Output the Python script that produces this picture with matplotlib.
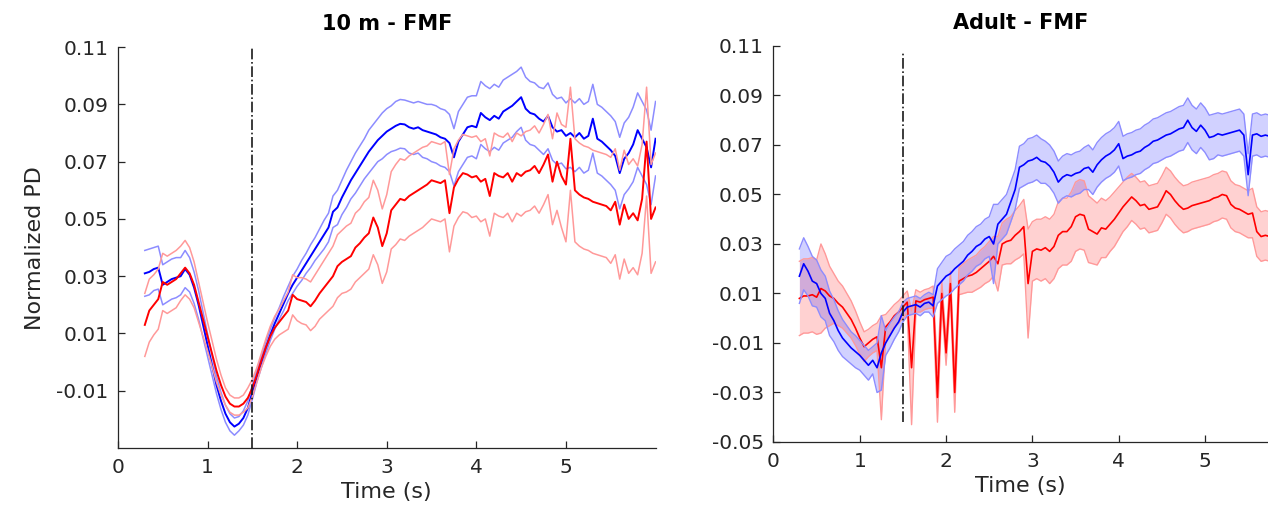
import numpy as np
import matplotlib
matplotlib.use("Agg")
import matplotlib.pyplot as plt

plt.rcParams['font.family'] = ['DejaVu Sans']
plt.rcParams['axes.unicode_minus'] = False

# ---------------- data (values in units of 1e-3) ----------------
event_time = 1.5

t_10m = np.round(np.arange(0.30, 6.001, 0.05), 2)
blue_mean_10m = [
    31, 31.5, 32.5, 33, 27, 28, 29, 29.5, 30, 32.5,
    30.5, 26, 20, 13, 6, -1, -8, -13.5, -18, -21,
    -22.5, -21.5, -19.5, -16, -10.5, -5, 0, 5, 9.5, 13.5,
    17, 20.5, 24, 27, 29.5, 32, 34.5, 37, 39.5, 42,
    44.5, 47, 52.5, 54, 57.5, 60.5, 63.5, 66, 68.5, 71,
    73.5, 75.5, 77.5, 79, 80.5, 81.5, 82.5, 83.2, 83, 82,
    81.5, 82, 81, 80.5, 80, 79.5, 78.5, 78, 76.5, 71.5,
    77, 79.5, 82, 82.5, 82, 87, 85.5, 84.5, 86, 85,
    87.5, 88.5, 89.5, 91, 92.5, 88.5, 87, 86.5, 85, 84,
    86, 82, 80.5, 81, 79, 80, 78.5, 80, 78, 79,
    85, 78, 77, 75.5, 74, 72, 66, 71, 73, 76,
    81, 78, 75, 68, 78]
blue_sem_10m = [
    8, 8, 7.5, 7.5, 7, 7, 7, 7, 6.5, 6.5,
    6, 5.5, 5, 4.5, 4, 3.5, 3, 3, 3, 3,
    3, 2.5, 2.5, 2.5, 2.5, 2, 2, 2, 2, 2,
    2, 2.5, 2.5, 3, 3, 3.5, 3.5, 4, 4, 4.5,
    5, 5, 5.5, 6, 6, 6.5, 6.5, 7, 7, 7,
    7.5, 7.5, 7.5, 8, 8, 8, 8.5, 8.5, 8.5, 9,
    9, 9, 9.5, 9.5, 10, 10, 10, 10, 10, 10,
    10.5, 10.5, 10.5, 10.5, 11, 11, 11, 11, 11, 11,
    11, 11, 11, 10.5, 10.5, 11, 11, 11, 11, 11.5,
    11.5, 11.5, 11.5, 11.5, 11.5, 12, 12, 12, 12, 12,
    12, 12, 12, 12, 12, 12, 12.5, 12.5, 12.5, 13,
    13, 13, 13, 13, 13]
red_mean_10m = [
    13, 18, 20, 22, 28, 27, 28, 29, 31, 33,
    31, 27, 21, 15, 9, 3, -3, -8, -12, -14.5,
    -15.5, -15.5, -14.5, -12.5, -9, -4.5, 0.5, 5, 9, 12,
    14, 16, 18, 23.5, 22, 21.5, 21, 19.5, 21.5, 24,
    26, 28, 30, 33.5, 35, 36, 37, 40, 41.5, 43.5,
    45, 50.5, 47, 40.5, 45, 53, 55, 57, 56.5, 58,
    59, 60, 61, 62, 63.5, 63, 62.5, 63.5, 52, 61,
    64, 66, 65.5, 64.5, 65, 63, 64, 58, 66, 65,
    64.5, 66, 63, 66, 65, 66.5, 67, 68.5, 66, 69,
    72.5, 63, 70, 65, 62, 78, 60, 58.5, 57.5, 57,
    56, 55.5, 55, 54.5, 53, 56, 48, 55, 50, 52,
    49.5, 57, 77, 50, 54]
red_sem_10m = [
    11, 11, 10.5, 10.5, 10, 10, 10, 10, 9.5, 9.5,
    9, 8, 7, 6, 5, 4.5, 4, 3.5, 3, 3,
    3, 3, 3, 3.5, 3, 2.5, 2.5, 3, 3.5, 4,
    4.5, 5.5, 6.5, 7, 7.5, 8, 8, 8.5, 9, 9,
    9.5, 10, 10.5, 11, 11, 11.5, 11.5, 12, 12, 12.5,
    12.5, 13, 13, 13, 13.5, 13.5, 14, 14, 14, 14,
    14, 14, 14, 13.5, 13.5, 13.5, 13.5, 13.5, 13.5, 13.5,
    13.5, 13.5, 13.5, 14, 14, 14, 14, 14, 14, 14,
    14, 14, 14, 14, 14, 14, 14, 14, 14, 14,
    14, 15, 17, 18, 20, 18, 18, 18, 18, 18,
    18, 18, 18, 18, 18.5, 18.5, 19, 19, 19, 19,
    19, 19, 19, 19, 19]

t_adult = np.round(np.arange(0.30, 5.751, 0.05), 2)
blue_mean_adult = [
    17, 22, 19, 15, 14, 10, 8, 2, -1, -5,
    -8, -10, -12, -13.5, -15, -17, -19, -17, -20, -14,
    -10, -7, -4, -1.5, 2.5, 4.5, 5, 5.5, 4.5, 6,
    6.5, 5, 13, 15, 17, 18, 20, 21.5, 23, 25.5,
    27, 29, 30, 32, 33, 30, 38, 40, 42, 47,
    52, 61, 62, 63.5, 64, 65, 63.5, 63, 61.5, 59,
    55, 57, 58, 57.5, 58.5, 59, 60.5, 61, 59, 62,
    64, 65.5, 66.5, 68, 70.5, 64.5, 65.5, 66, 67, 67.5,
    69, 70, 71.5, 72, 73, 74, 74.5, 75.5, 76.5, 77,
    80, 77, 75.5, 78, 76, 73, 73.5, 74.5, 74, 74.5,
    75, 75.5, 76, 74, 58, 74, 74.5, 73.5, 74, 73.5]
blue_sem_adult = [
    11, 10.5, 10, 10, 9.5, 9.5, 9, 9, 8.5, 8,
    7.5, 7, 6.5, 6.5, 6, 6, 6, 5.5, 10, 15,
    5, 5, 4.5, 4, 4, 3.5, 3.5, 3.5, 3.5, 3.5,
    4, 4.5, 7, 7.5, 8, 8, 8, 8, 8, 8,
    8, 8, 8, 8, 8, 16, 8, 8, 8, 8,
    8, 8.5, 8.5, 9, 9, 9, 9, 8.5, 8.5, 8.5,
    8.5, 8.5, 8.5, 8.5, 8.5, 8.5, 8.5, 9, 9, 9,
    9, 9, 9, 9, 9, 9, 9, 9, 9, 9,
    9, 9, 9, 9, 9, 9, 9, 9, 9, 9,
    9, 9, 9, 9, 9, 9, 9, 8.5, 8.5, 8.5,
    8.5, 8.5, 8.5, 8.5, 8.5, 8.5, 8.5, 8.5, 8.5, 8.5]
red_mean_adult = [
    8, 9, 9, 9.5, 8.5, 12, 11, 9, 8, 6,
    4.5, 2, -0.5, -4, -8, -11.5, -10, -8.5, -7.5, -20,
    -3.5, -1.5, 1, 2.5, 4.5, 6.5, -20, 7, 6.5, 7.5,
    8, 8.5, -32, 10, -14, 14, -30, 15, 16, 17,
    17.5, 18.5, 20, 21.5, 23, 25, 22, 30, 31, 31.5,
    33.5, 35, 37, 14, 27, 28, 27.5, 28.5, 27, 29,
    33.5, 35, 35, 37, 41, 42, 41.5, 36, 35, 34,
    36.5, 36, 38, 40, 42.5, 45, 47, 49, 47.5, 45.5,
    46, 44, 44.5, 45, 48, 51.5, 50, 47.5, 45.5, 44,
    44.5, 45.5, 46, 46.5, 47, 47.5, 48.5, 49, 50, 49.5,
    46, 44.5, 44, 43, 42, 42.5, 35, 33, 33.5, 33]
red_sem_adult = [
    15, 15, 15, 15, 15, 18, 15, 12, 10, 9,
    8.5, 8, 7.5, 7, 6.5, 6, 5.5, 5.5, 5.5, 21,
    5, 5, 4.5, 4.5, 4.5, 4.5, 23, 4.5, 4, 4,
    4, 4.5, 10, 5, 5, 5, 8, 5.5, 6, 6.5,
    7, 7, 7.5, 7.5, 8, 8, 11, 8.5, 9, 9.5,
    10, 10.5, 11, 22, 12, 12, 12.5, 12.5, 13, 13,
    13.5, 13.5, 13.5, 14, 14, 14, 14, 13.5, 13, 12.5,
    12, 11.5, 11, 11, 10.5, 10, 10, 9.5, 9.5, 9.5,
    9.5, 9.5, 9.5, 9.5, 9.5, 9.5, 9.5, 9.5, 9.5, 9.5,
    9.5, 9.5, 9.5, 9.5, 9.5, 9.5, 9.5, 9.5, 9.5, 9.5,
    9.5, 9.5, 9.5, 9.5, 9.5, 10, 10, 10, 10, 10]

titles = ["10 m - FMF", "Adult - FMF"]
xlabel = "Time (s)"
ylabel = "Normalized PD"
xticks = [0, 1, 2, 3, 4, 5]
yticks_10m = [-0.01, 0.01, 0.03, 0.05, 0.07, 0.09, 0.11]
yticks_adult = [-0.05, -0.03, -0.01, 0.01, 0.03, 0.05, 0.07, 0.09, 0.11]

# ---------------- styling ----------------
BLUE, BLUE_L = (0, 0, 1), (0.55, 0.55, 1.0)
RED, RED_L = (1, 0, 0), (1.0, 0.6, 0.6)
AX_C = '0.15'

def arr(v):
    return np.asarray(v, dtype=float) / 1000.0

def style(ax, yticks):
    for s in ['top', 'right']:
        ax.spines[s].set_visible(False)
    for s in ['left', 'bottom']:
        ax.spines[s].set_color(AX_C)
        ax.spines[s].set_linewidth(0.9)
    ax.tick_params(direction='in', length=5, width=0.9, colors=AX_C,
                   labelsize=14.5, pad=7)
    ax.set_xticks(xticks)
    ax.set_xticklabels([str(x) for x in xticks])
    ax.set_yticks(yticks)
    ax.set_yticklabels([f"{y:.2f}" for y in yticks])
    ax.set_xlabel(xlabel, fontsize=16, color=AX_C, labelpad=4)

fig = plt.figure(figsize=(12.68, 5.29), dpi=100)
ax1 = fig.add_axes([0.093, 0.153, 0.424, 0.758])
ax2 = fig.add_axes([0.610, 0.1645, 0.390, 0.7486])

# ---- left panel: lines only ----
bm, bs = arr(blue_mean_10m), arr(blue_sem_10m)
rm, rs = arr(red_mean_10m), arr(red_sem_10m)
ax1.plot(t_10m, bm + bs, color=BLUE_L, lw=1.1)
ax1.plot(t_10m, bm - bs, color=BLUE_L, lw=1.1)
ax1.plot(t_10m, bm, color=BLUE, lw=1.4)
ax1.plot(t_10m, rm + rs, color=RED_L, lw=1.1)
ax1.plot(t_10m, rm - rs, color=RED_L, lw=1.1)
ax1.plot(t_10m, rm, color=RED, lw=1.4)
ax1.axvline(event_time, color='0.1', ls='-.', lw=1.2)
ax1.set_xlim(0, 6)
ax1.set_ylim(-0.03, 0.11)
style(ax1, yticks_10m)
ax1.set_ylabel(ylabel, fontsize=16, color=AX_C, labelpad=8)
ax1.set_title(titles[0], fontsize=15, fontweight='bold', pad=12)

# ---- right panel: shaded bands ----
bm, bs = arr(blue_mean_adult), arr(blue_sem_adult)
rm, rs = arr(red_mean_adult), arr(red_sem_adult)
ax2.fill_between(t_adult, rm - rs, rm + rs, color=RED, alpha=0.18, lw=0)
ax2.plot(t_adult, rm + rs, color=RED_L, lw=1.0)
ax2.plot(t_adult, rm - rs, color=RED_L, lw=1.0)
ax2.plot(t_adult, rm, color=RED, lw=1.2)
ax2.fill_between(t_adult, bm - bs, bm + bs, color=BLUE, alpha=0.18, lw=0)
ax2.plot(t_adult, bm + bs, color=BLUE_L, lw=1.0)
ax2.plot(t_adult, bm - bs, color=BLUE_L, lw=1.0)
ax2.plot(t_adult, bm, color=BLUE, lw=1.2)
ax2.vlines(event_time, -0.042, 0.108, colors='0.1', linestyles='-.', lw=1.2)
ax2.set_xlim(0, 5.73)
ax2.set_ylim(-0.05, 0.11)
style(ax2, yticks_adult)
ax2.set_title(titles[1], fontsize=15, fontweight='bold', pad=12)

fig.savefig("out.png", dpi=100)
